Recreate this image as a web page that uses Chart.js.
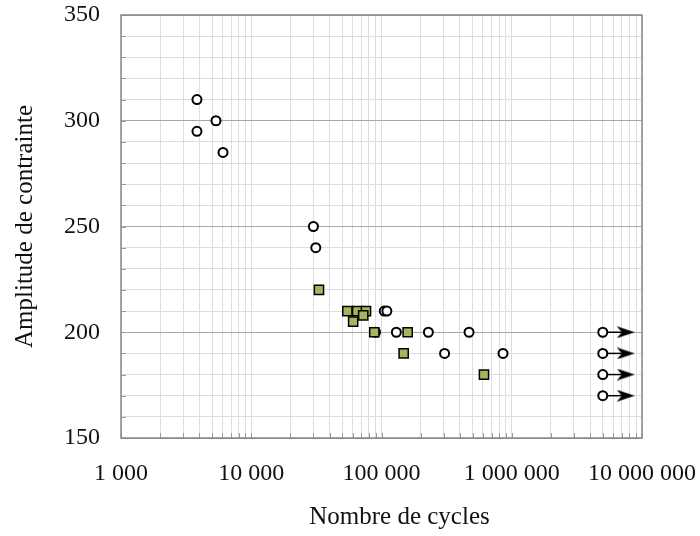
<!DOCTYPE html>
<html lang="fr">
<head>
  <meta charset="UTF-8" />
  <title>Amplitude de contrainte / Nombre de cycles</title>
  <script src="https://cdn.jsdelivr.net/npm/chart.js@4.4.0/dist/chart.umd.min.js"></script>
  <style>
    html, body { margin: 0; padding: 0; background: #fff; }
    #wrap { width: 700px; height: 536px; }
  </style>
</head>
<body>
<div id="wrap"><canvas id="sn"></canvas></div>
<script>
  // essais rompus (cercles)
  const circleCycles = [3830, 3830, 5360, 6070, 30000, 31300, 105000, 110000, 90000, 130000, 229000, 470000, 305000, 857000];
  const circleStress = [310, 295, 300, 285, 250, 240, 210, 210, 200, 200, 200, 200, 190, 190];
  // essais rompus (carrés)
  const squareCycles = [33100, 54700, 65100, 76000, 72400, 60600, 88100, 158800, 148000, 612000];
  const squareStress = [220, 210, 210, 210, 208, 205, 200, 200, 190, 180];
  // non rompus (flèches)
  const runoutCycles = [5000000, 5000000, 5000000, 5000000];
  const runoutStress = [200, 190, 180, 170];
  const arrowEndCycles = 7500000;

  const xTickValues = [1000, 10000, 100000, 1000000, 10000000];
  const xTickLabels = ["1 000", "10 000", "100 000", "1 000 000", "10 000 000"];
  const yTickLabels = [150, 200, 250, 300, 350];
  const xTitle = "Nombre de cycles";
  const yTitle = "Amplitude de contrainte";

  const serif = "'Liberation Serif', serif";
  const tickFont = { family: serif, size: 24 };
  const titleFont = { family: serif, size: 25 };

  // pointe de flèche
  const head = document.createElement("canvas");
  head.width = 18;
  head.height = 12;
  const hc = head.getContext("2d");
  hc.fillStyle = "#000";
  hc.beginPath();
  hc.moveTo(18, 6);
  hc.lineTo(0, 0);
  hc.lineTo(5, 6);
  hc.lineTo(0, 12);
  hc.closePath();
  hc.fill();

  // cadre, petites graduations internes, titre de l'axe x
  const frame = {
    id: "frame",
    beforeDatasetsDraw(chart) {
      const { ctx, chartArea: a, scales } = chart;
      ctx.save();
      ctx.strokeStyle = "#9a9a9a";
      ctx.lineWidth = 1;
      ctx.beginPath();
      scales.x.ticks.forEach(t => {
        const px = Math.round(scales.x.getPixelForValue(t.value)) + 0.5;
        ctx.moveTo(px, a.bottom);
        ctx.lineTo(px, a.bottom - 5);
      });
      scales.y.ticks.forEach(t => {
        const py = Math.round(scales.y.getPixelForValue(t.value)) + 0.5;
        ctx.moveTo(a.left, py);
        ctx.lineTo(a.left + 5, py);
      });
      ctx.stroke();
      ctx.restore();
    },
    afterDraw(chart) {
      const { ctx, chartArea: a } = chart;
      ctx.save();
      ctx.strokeStyle = "#878787";
      ctx.lineWidth = 1.5;
      ctx.strokeRect(a.left, a.top, a.right - a.left, a.bottom - a.top);
      ctx.fillStyle = "#111";
      ctx.font = "25px " + serif;
      ctx.textAlign = "center";
      ctx.textBaseline = "middle";
      ctx.fillText(xTitle, (a.left + a.right) / 2 + 18, chart.height - 19);
      ctx.restore();
    }
  };

  const arrows = runoutStress.map((s, i) => ({
    data: [{ x: runoutCycles[i], y: s }, { x: arrowEndCycles, y: s }],
    showLine: true,
    borderColor: "#000",
    borderWidth: 1.5,
    pointStyle: (c) => c.dataIndex === 1 ? head : "circle",
    pointRadius: (c) => c.dataIndex === 1 ? 6 : 0,
    order: 2
  }));

  new Chart(document.getElementById("sn"), {
    type: "scatter",
    data: {
      datasets: [
        {
          data: squareCycles.map((c, i) => ({ x: c, y: squareStress[i] })),
          pointStyle: "rect",
          pointRadius: 6.5,
          backgroundColor: "#a3b65a",
          borderColor: "#000",
          borderWidth: 1.5,
          order: 0
        },
        {
          data: circleCycles.map((c, i) => ({ x: c, y: circleStress[i] }))
            .concat(runoutCycles.map((c, i) => ({ x: c, y: runoutStress[i] }))),
          pointStyle: "circle",
          pointRadius: 4.5,
          backgroundColor: "#fff",
          borderColor: "#000",
          borderWidth: 2,
          order: 1
        },
        ...arrows
      ]
    },
    options: {
      responsive: true,
      maintainAspectRatio: false,
      animation: false,
      layout: { padding: { top: 15, right: 58, bottom: 0, left: 0 } },
      plugins: { legend: { display: false }, tooltip: { enabled: false } },
      scales: {
        x: {
          type: "logarithmic",
          min: 1000,
          max: 10000000,
          afterBuildTicks: (scale) => {
            const t = [];
            for (let e = 1000; e < 10000000; e *= 10) {
              for (let k = 1; k < 10; k++) t.push({ value: k * e });
            }
            t.push({ value: 10000000 });
            scale.ticks = t;
          },
          afterFit: (scale) => {
            scale.height = 98;
            scale.paddingLeft = 0;
            scale.paddingRight = 0;
          },
          ticks: {
            autoSkip: false,
            maxRotation: 0,
            padding: 21,
            color: "#111",
            font: tickFont,
            callback: (v) => {
              const i = xTickValues.indexOf(v);
              return i >= 0 ? xTickLabels[i] : "";
            }
          },
          grid: { color: "#dedede", lineWidth: 1, drawTicks: false },
          border: { display: false },
          title: { display: false }
        },
        y: {
          min: 150,
          max: 350,
          afterFit: (scale) => {
            scale.width = 121;
            scale.paddingTop = 0;
            scale.paddingBottom = 0;
          },
          ticks: {
            stepSize: 10,
            autoSkip: false,
            padding: 21,
            color: "#111",
            font: tickFont,
            callback: (v) => yTickLabels.includes(v) ? v : ""
          },
          grid: {
            color: (c) => c.tick && c.tick.value % 50 === 0 ? "#a8a8a8" : "#dedede",
            lineWidth: 1,
            drawTicks: false
          },
          border: { display: false },
          title: {
            display: true,
            text: yTitle,
            color: "#111",
            font: titleFont,
            padding: { top: 10, bottom: 24 }
          }
        }
      }
    },
    plugins: [frame]
  });
</script>
</body>
</html>
